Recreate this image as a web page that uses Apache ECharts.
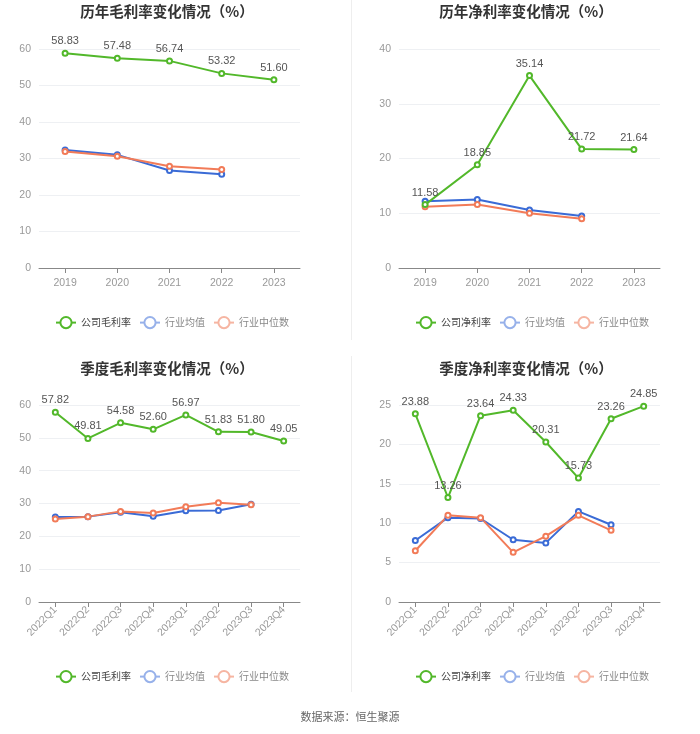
<!DOCTYPE html>
<html><head><meta charset="utf-8">
<script src="https://cdn.jsdelivr.net/npm/echarts@6/dist/echarts.min.js"></script>
<style>html,body{margin:0;padding:0;background:#fff}#c{width:700px;height:734px}</style>
</head><body><div id="c"></div>
<script>
var years = ['2019','2020','2021','2022','2023'];
var quarters = ['2022Q1','2022Q2','2022Q3','2022Q4','2023Q1','2023Q2','2023Q3','2023Q4'];

var annualGross = [58.83, 57.48, 56.74, 53.32, 51.60];
var annualGrossAvg = [32.3, 31.0, 26.7, 25.7, null];
var annualGrossMed = [31.9, 30.6, 27.9, 27.0, null];

var annualNet = [11.58, 18.85, 35.14, 21.72, 21.64];
var annualNetAvg = [12.2, 12.5, 10.6, 9.5, null];
var annualNetMed = [11.2, 11.6, 10.0, 9.0, null];

var quarterGross = [57.82, 49.81, 54.58, 52.60, 56.97, 51.83, 51.80, 49.05];
var quarterGrossAvg = [25.9, 26.0, 27.3, 26.1, 27.8, 27.9, 29.8, null];
var quarterGrossMed = [25.3, 26.0, 27.6, 27.1, 29.0, 30.2, 29.6, null];

var quarterNet = [23.88, 13.26, 23.64, 24.33, 20.31, 15.73, 23.26, 24.85];
var quarterNetAvg = [7.8, 10.7, 10.6, 7.9, 7.5, 11.5, 9.8, null];
var quarterNetMed = [6.5, 11.0, 10.7, 6.3, 8.35, 11.0, 9.1, null];

var titles = ['历年毛利率变化情况（%）','历年净利率变化情况（%）','季度毛利率变化情况（%）','季度净利率变化情况（%）'];
var names = [['公司毛利率','行业均值','行业中位数'],['公司净利率','行业均值','行业中位数'],['公司毛利率','行业均值','行业中位数'],['公司净利率','行业均值','行业中位数']];
var yMax = [60, 40, 60, 25];
var yInt = [10, 10, 10, 5];

var GREEN = '#52b82a', BLUE = '#3a6bd6', ORANGE = '#f27b58';
var LBLUE = '#97b1ea', LORANGE = '#f6b5a2';
var FONT = 'Liberation Sans';
var CJK = 'Noto Sans CJK SC';

var grids = [
  {left:39, top:49, width:261, height:219},
  {left:399, top:49, width:261, height:219},
  {left:39, top:405, width:261, height:197},
  {left:399, top:405, width:261, height:197}
];
var titleTops = [4, 4, 361, 361];
var titleCenters = [167, 526, 167, 526];
var legendTops = [311, 311, 665, 665];
var legendLefts = [50, 410, 50, 410];

var option = {
  backgroundColor:'#fff',
  animation:false,
  title: [], legend: [], grid: grids, xAxis: [], yAxis: [], series: [],
  graphic: [
    {type:'line', shape:{x1:351.5,y1:0,x2:351.5,y2:340}, style:{stroke:'#eeeeee',lineWidth:1}},
    {type:'line', shape:{x1:351.5,y1:356,x2:351.5,y2:692}, style:{stroke:'#eeeeee',lineWidth:1}}
  ]
};

var groups = [
  [years, annualGross, annualGrossAvg, annualGrossMed],
  [years, annualNet, annualNetAvg, annualNetMed],
  [quarters, quarterGross, quarterGrossAvg, quarterGrossMed],
  [quarters, quarterNet, quarterNetAvg, quarterNetMed]
];

for (var i = 0; i < 4; i++) {
  option.title.push({
    text: titles[i], left: titleCenters[i], top: titleTops[i], textAlign:'center', padding:0,
    textStyle:{fontSize:14.5, fontWeight:'bold', color:'#333', fontFamily:CJK}
  });
  option.legend.push({
    top: legendTops[i], left: legendLefts[i],
    orient:'horizontal', itemWidth:20, itemHeight:14, itemGap:8,
    textStyle:{fontSize:10, color:'#888', fontFamily:CJK},
    data:[
      {name:names[i][0], textStyle:{color:'#444'}},
      {name:names[i][1], itemStyle:{color:LBLUE, borderColor:LBLUE}, lineStyle:{color:LBLUE}},
      {name:names[i][2], itemStyle:{color:LORANGE, borderColor:LORANGE}, lineStyle:{color:LORANGE}}
    ]
  });
  var quarterly = i >= 2;
  option.xAxis.push({
    type:'category', gridIndex:i, data: groups[i][0], boundaryGap:true,
    axisLine:{lineStyle:{color:'#888'}},
    axisTick:{show:true, alignWithLabel:true, lineStyle:{color:'#888'}},
    axisLabel:{color:'#999', fontSize:10.5, fontFamily:FONT, rotate: quarterly ? 45 : 0, margin: quarterly ? 6 : 10, interval:0}
  });
  option.yAxis.push({
    type:'value', gridIndex:i, min:0, max:yMax[i], interval:yInt[i],
    axisLine:{show:false}, axisTick:{show:false},
    axisLabel:{color:'#999', fontSize:10.5, fontFamily:FONT, margin:8},
    splitLine:{lineStyle:{color:'#eef0f3'}}
  });
  var cols = [GREEN, BLUE, ORANGE];
  for (var s = 0; s < 3; s++) {
    option.series.push({
      type:'line', name:names[i][s], xAxisIndex:i, yAxisIndex:i,
      data: groups[i][s+1], symbol:'emptyCircle', symbolSize:5,
      lineStyle:{width:2, color:cols[s]}, itemStyle:{color:cols[s]},
      z: s === 0 ? 3 : 2,
      label: s === 0 ? {show:true, position:'top', distance:3, color:'#555', fontSize:11, fontFamily:FONT, formatter:function(p){return p.value.toFixed(2);}} : {show:false}
    });
  }
}
option.title.push({
  text:'数据来源：恒生聚源', left:350, top:711, textAlign:'center', padding:0,
  textStyle:{fontSize:11, fontWeight:'normal', color:'#666', fontFamily:CJK}
});

var chart = echarts.init(document.getElementById('c'));
chart.setOption(option);
</script>
</body></html>
